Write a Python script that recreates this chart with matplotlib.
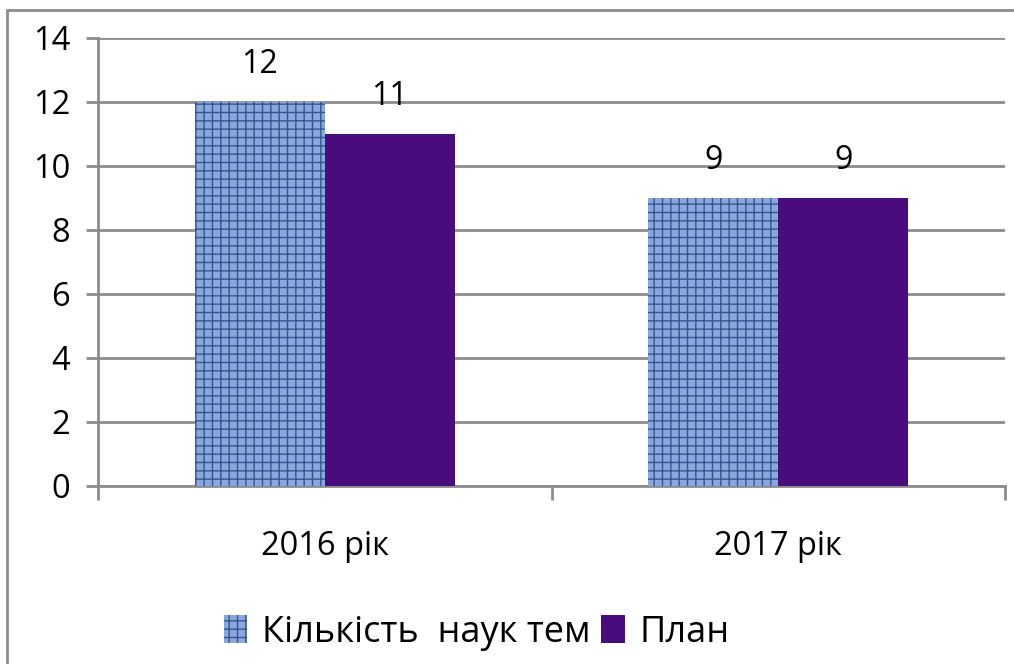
import numpy as np
import matplotlib.pyplot as plt
from matplotlib.patches import Rectangle

plt.rcParams['font.family'] = ['Open Sans', 'DejaVu Sans']
plt.rcParams['hatch.linewidth'] = 1.0

# Data
categories = ["2016 рік", "2017 рік"]
series_names = ["Кількість  наук тем", "План"]
kilkist = [12, 9]
plan = [11, 9]

fig = plt.figure(figsize=(10.14, 6.64), dpi=100)
ax = fig.add_axes([98 / 1014, 1 - 486 / 664, (1005 - 98) / 1014, (486 - 38) / 664])

# outer chart frame (cut off at right and bottom)
fig.patches.append(Rectangle((7 / 1014, -0.1), 1.2, 1 - 10 / 664 + 0.1,
                             transform=fig.transFigure, fill=False,
                             edgecolor="#8c8c8c", linewidth=2))

x = np.arange(len(categories))
w = 0.287
b1 = ax.bar(x - w / 2, kilkist, w, color="#8aa8de", edgecolor="#34558f",
            hatch="++", linewidth=0, label=series_names[0], zorder=3)
b2 = ax.bar(x + w / 2, plan, w, color="#4a0c7c", edgecolor="#5a1a90",
            hatch="", linewidth=0, label=series_names[1], zorder=3)

for bars, vals in [(b1, kilkist), (b2, plan)]:
    for r, v in zip(bars, vals):
        ax.annotate(str(v), (r.get_x() + r.get_width() / 2, v),
                    xytext=(0, 27), textcoords="offset points",
                    ha="center", va="center", fontsize=23)

ax.set_xlim(-0.5, 1.5)
ax.set_ylim(0, 14)
ax.set_yticks(range(0, 15, 2))
ax.set_xticks([-0.5, 0.5, 1.5])
ax.set_xticklabels([])
ax.set_xticks(x, minor=True)
ax.set_xticklabels(categories, minor=True)
ax.tick_params(axis="x", which="major", length=10, width=2, color="#8c8c8c", direction="out")
ax.tick_params(axis="x", which="minor", length=0, pad=32, labelsize=23.5)
ax.tick_params(axis="y", length=9, width=2, color="#8c8c8c", labelsize=23.5, pad=11)

ax.yaxis.grid(True, color="#8c8c8c", linewidth=2, zorder=0)
ax.set_axisbelow(True)
for s in ["top", "right"]:
    ax.spines[s].set_visible(False)
for s in ["left", "bottom"]:
    ax.spines[s].set_color("#8c8c8c")
    ax.spines[s].set_linewidth(2)

fig.legend(handles=[b1, b2], loc="center", bbox_to_anchor=(0.47, 0.047),
           ncol=2, frameon=False, fontsize=26, handlelength=0.65,
           handleheight=0.8, columnspacing=0.3, handletextpad=0.4)

fig.savefig("out.png", dpi=100)
